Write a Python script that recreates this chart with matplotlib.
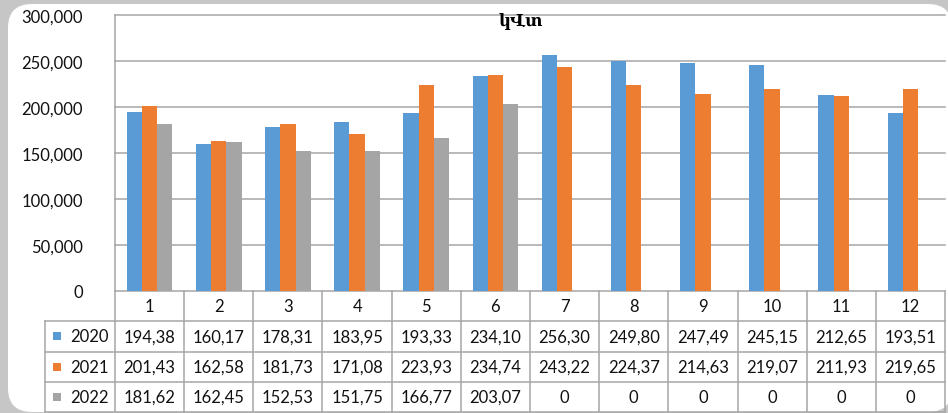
import matplotlib.pyplot as plt
import numpy as np
from matplotlib.patches import FancyBboxPatch, Rectangle
from matplotlib.ticker import FuncFormatter
from matplotlib.transforms import blended_transform_factory

# --- Data (thousand kWh per month) ---
months = ["1", "2", "3", "4", "5", "6", "7", "8", "9", "10", "11", "12"]
years = ["2020", "2021", "2022"]
v2020 = [194.38, 160.17, 178.31, 183.95, 193.33, 234.10, 256.30, 249.80, 247.49, 245.15, 212.65, 193.51]
v2021 = [201.43, 162.58, 181.73, 171.08, 223.93, 234.74, 243.22, 224.37, 214.63, 219.07, 211.93, 219.65]
v2022 = [181.62, 162.45, 152.53, 151.75, 166.77, 203.07, 0, 0, 0, 0, 0, 0]
colors = ["#5B9BD5", "#ED7D31", "#A5A5A5"]
title = "կՎտ"

W, H = 948, 414
LINE = "#a6a6a6"
FONT = "Lato"
FS = 12

fig = plt.figure(figsize=(W / 100, H / 100), dpi=100)
fig.patch.set_facecolor("#c6c6c6")

# background panel (pixel coordinates)
bg = fig.add_axes([0, 0, 1, 1])
bg.set_xlim(0, W)
bg.set_ylim(H, 0)
bg.axis("off")
bg.add_patch(FancyBboxPatch((8, 5), 944, 408, boxstyle="round,pad=0,rounding_size=24",
                            facecolor="white", edgecolor="none"))

# --- main chart ---
ax = fig.add_axes([115 / W, (H - 292) / H, 830 / W, 276 / H])
ax.patch.set_alpha(0)
x = np.arange(len(months))
bw = 0.22
for i, (vals, c, lab) in enumerate(zip([v2020, v2021, v2022], colors, years)):
    ax.bar(x + (i - 1) * bw, np.array(vals) * 1000, bw, color=c, linewidth=0, label=lab, zorder=3)

ax.set_xlim(-0.5, len(months) - 0.5)
ax.set_ylim(0, 300000)
ax.set_yticks(np.arange(0, 300001, 50000))
ax.yaxis.set_major_formatter(FuncFormatter(lambda v, p: f"{v:,.0f}"))
ax.set_xticks([])
ax.yaxis.grid(True, color=LINE, linewidth=1.1)
for gl in ax.get_ygridlines():
    gl.set_clip_on(False)
ax.set_axisbelow(True)
for s in ["top", "right", "bottom"]:
    ax.spines[s].set_visible(False)
ax.spines["left"].set_color(LINE)
ax.spines["left"].set_linewidth(1.1)
ax.tick_params(axis="y", length=0, pad=23, labelsize=FS, labelcolor="#111111")
for t in ax.get_yticklabels():
    t.set_fontfamily(FONT)

# --- data table under the chart ---
tr = blended_transform_factory(ax.transData, ax.transAxes)
px_x = (len(months)) / 830.0   # data units per pixel
px_y = 1 / 276.0               # axes units per pixel
rh = 30.3 * px_y
x_left = -0.5 - 70 * px_x
x_right = len(months) - 0.5
lk = dict(color=LINE, linewidth=1.1, transform=tr, clip_on=False)

for r in range(1, 5):
    ax.plot([x_left, x_right], [-r * rh, -r * rh], **lk)
for k in range(len(months) + 1):
    ax.plot([k - 0.5, k - 0.5], [0, -4 * rh], **lk)
ax.plot([x_left, x_left], [-rh, -4 * rh], **lk)

tk = dict(transform=tr, ha="center", va="center", fontsize=FS, family=FONT,
          color="#111111", clip_on=False)
for k, m in enumerate(months):
    ax.text(k, -0.5 * rh, m, **tk)
for r, (vals, c, lab) in enumerate(zip([v2020, v2021, v2022], colors, years), start=1):
    yc = -(r + 0.5) * rh
    for k, v in enumerate(vals):
        s = "0" if v == 0 else f"{v:.2f}".replace(".", ",")
        ax.text(k, yc, s, **tk)
    ax.add_patch(Rectangle((x_left + 8 * px_x, yc - 4 * px_y), 8 * px_x, 8 * px_y,
                           facecolor=c, edgecolor="none", transform=tr, clip_on=False))
    ax.text(-0.5 - 6 * px_x, yc, lab, transform=tr, ha="right", va="center",
            fontsize=FS, family=FONT, color="#111111", clip_on=False)

fig.text(521 / W, 1 - 22 / H, title, ha="center", va="center", fontsize=12,
         fontweight="bold", family=["DejaVu Serif", "DejaVu Sans"])

fig.savefig("out.png", dpi=100, facecolor=fig.get_facecolor())
